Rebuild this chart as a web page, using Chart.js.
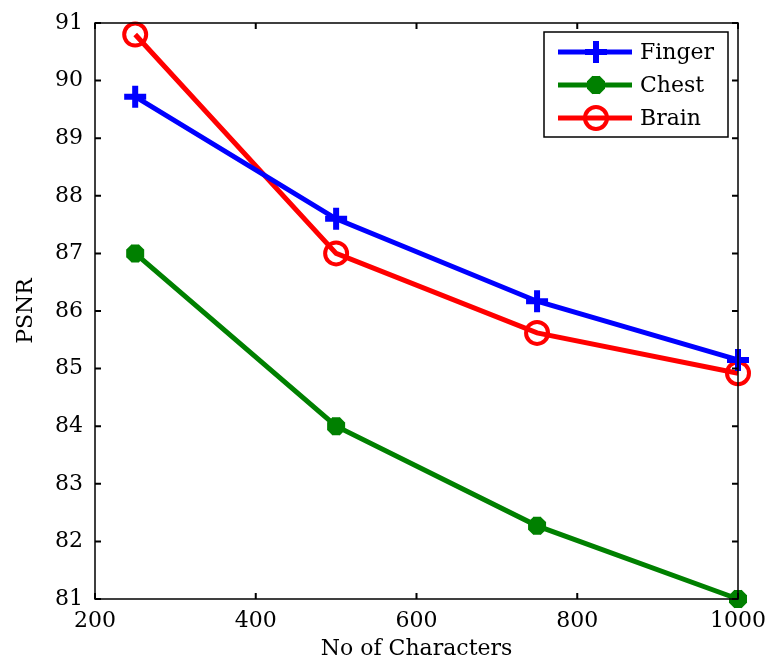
<!DOCTYPE html>
<html>
<head>
<meta charset="utf-8">
<script src="https://cdn.jsdelivr.net/npm/chart.js@4.4.1/dist/chart.umd.min.js"></script>
<style>
    html, body { margin: 0; padding: 0; background: #fff; }
    #wrap { width: 772px; height: 664px; }
</style>
</head>
<body>
<div id="wrap"><canvas id="psnrChart"></canvas></div>
<script>
// PSNR against number of embedded characters, one line per image type
const characters = [250, 500, 750, 1000];
const fingerPsnr = [89.72, 87.6, 86.17, 85.15];
const chestPsnr = [87.0, 84.0, 82.27, 81.0];
const brainPsnr = [90.8, 87.0, 85.62, 84.92];
const xTicks = [200, 400, 600, 800, 1000];
const yTicks = [81, 82, 83, 84, 85, 86, 87, 88, 89, 90, 91];

const serif = '"DejaVu Serif", "Liberation Serif", serif';

function toPoints(values) {
    return characters.map((c, i) => ({ x: c, y: values[i] }));
}

// Box around the plot with short ticks pointing inward on all four sides
const boxTicks = {
    id: 'boxTicks',
    afterDatasetsDraw(chart) {
        const { ctx, chartArea: a, scales } = chart;
        const len = 6;
        ctx.save();
        ctx.strokeStyle = '#000';
        ctx.lineWidth = 1.5;
        ctx.strokeRect(a.left, a.top, a.right - a.left, a.bottom - a.top);
        ctx.lineWidth = 2;
        ctx.beginPath();
        xTicks.forEach(v => {
            const px = scales.x.getPixelForValue(v);
            ctx.moveTo(px, a.bottom); ctx.lineTo(px, a.bottom - len);
            ctx.moveTo(px, a.top); ctx.lineTo(px, a.top + len);
        });
        yTicks.forEach(v => {
            const py = scales.y.getPixelForValue(v);
            ctx.moveTo(a.left, py); ctx.lineTo(a.left + len, py);
            ctx.moveTo(a.right, py); ctx.lineTo(a.right - len, py);
        });
        ctx.stroke();
        ctx.restore();
    }
};

// Legend box in the top right corner of the plot
const innerLegend = {
    id: 'innerLegend',
    afterDraw(chart) {
        const { ctx, chartArea: a } = chart;
        const boxW = 184, boxH = 105;
        const left = a.right - 194, top = a.top + 9;
        ctx.save();
        ctx.fillStyle = '#fff';
        ctx.fillRect(left, top, boxW, boxH);
        ctx.strokeStyle = '#000';
        ctx.lineWidth = 1.5;
        ctx.strokeRect(left, top, boxW, boxH);
        chart.data.datasets.forEach((ds, i) => {
            const y = top + 20 + i * 33;
            ctx.strokeStyle = ds.borderColor;
            ctx.lineWidth = ds.borderWidth;
            ctx.beginPath();
            ctx.moveTo(left + 14, y);
            ctx.lineTo(left + 88, y);
            ctx.stroke();
            ctx.fillStyle = ds.pointBackgroundColor;
            ctx.strokeStyle = ds.borderColor;
            ctx.lineWidth = ds.pointBorderWidth;
            Chart.helpers.drawPoint(ctx, {
                pointStyle: ds.pointStyle,
                radius: ds.pointRadius,
                borderWidth: ds.pointBorderWidth,
                rotation: 0
            }, left + 52, y);
            ctx.fillStyle = '#000';
            ctx.font = '22px ' + serif;
            ctx.textBaseline = 'middle';
            ctx.fillText(ds.label, left + 96, y + 1);
        });
        ctx.restore();
    }
};

const lineSet = (label, values, color, style, radius, width, fill) => ({
    label: label,
    data: toPoints(values),
    borderColor: color,
    backgroundColor: color,
    pointBackgroundColor: fill ? color : 'rgba(0,0,0,0)',
    pointBorderColor: color,
    borderWidth: 5,
    pointStyle: style,
    pointRadius: radius,
    pointBorderWidth: width,
    tension: 0,
    clip: false
});

new Chart(document.getElementById('psnrChart'), {
    type: 'line',
    data: {
        datasets: [
            lineSet('Finger', fingerPsnr, '#0000ff', 'cross', 11, 6, true),
            lineSet('Chest', chestPsnr, '#008000', 'star', 9, 8, true),
            lineSet('Brain', brainPsnr, '#ff0000', 'circle', 11, 4, false)
        ]
    },
    options: {
        responsive: true,
        maintainAspectRatio: false,
        animation: false,
        layout: { padding: { top: 23, right: 34, bottom: 0, left: 0 } },
        plugins: {
            legend: { display: false },
            tooltip: { enabled: false }
        },
        scales: {
            x: {
                type: 'linear',
                min: 200,
                max: 1000,
                afterBuildTicks: scale => { scale.ticks = xTicks.map(v => ({ value: v })); },
                afterFit: scale => {
                    scale.height = 65;
                    scale.paddingLeft = 0;
                    scale.paddingRight = 0;
                },
                grid: { display: false, drawTicks: false },
                border: { display: false },
                ticks: {
                    color: '#000',
                    padding: 9,
                    font: { family: serif, size: 22 },
                    callback: v => String(v)
                },
                title: {
                    display: true,
                    text: 'No of Characters',
                    color: '#000',
                    padding: { top: 0, bottom: 2 },
                    font: { family: serif, size: 22 }
                }
            },
            y: {
                min: 81,
                max: 91,
                afterBuildTicks: scale => { scale.ticks = yTicks.map(v => ({ value: v })); },
                afterFit: scale => {
                    scale.width = 95;
                    scale.paddingTop = 0;
                    scale.paddingBottom = 0;
                },
                grid: { display: false, drawTicks: false },
                border: { display: false },
                ticks: {
                    color: '#000',
                    padding: 12,
                    font: { family: serif, size: 22 },
                    callback: v => String(v)
                },
                title: {
                    display: true,
                    text: 'PSNR',
                    color: '#000',
                    padding: { top: 13, bottom: 0 },
                    font: { family: serif, size: 22 }
                }
            }
        }
    },
    plugins: [boxTicks, innerLegend]
});
</script>
</body>
</html>
